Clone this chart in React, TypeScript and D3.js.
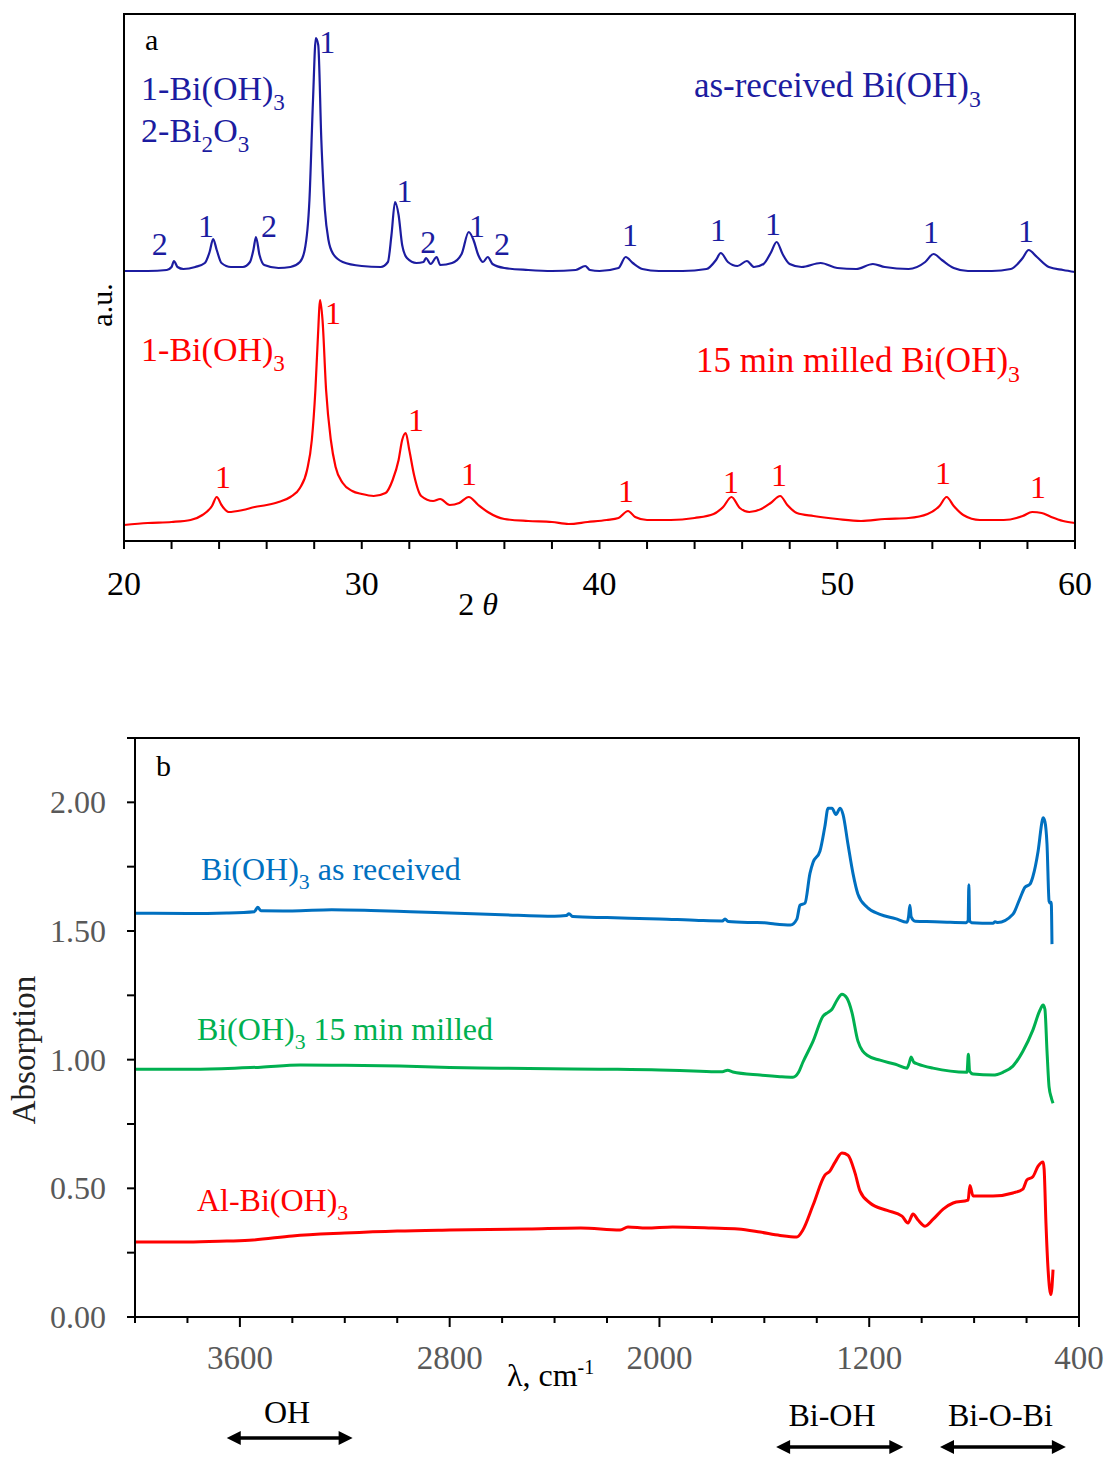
import React from "react";
import * as d3 from "d3";

// ---------- Panel a: XRD (2θ, intensity a.u.) ----------
const xrdAsReceived: [number, number][] = [
  [20.0, 270], [21.0, 270], [21.8, 271], [22.0, 274], [22.1, 280], [22.25, 274], [22.5, 272],
  [23.0, 274], [23.4, 278], [23.6, 289], [23.75, 302], [23.9, 291], [24.1, 278], [24.5, 274],
  [25.0, 274], [25.3, 279], [25.45, 292], [25.55, 304], [25.7, 286], [25.9, 276], [26.5, 273],
  [27.0, 274], [27.4, 279], [27.6, 291], [27.8, 341], [27.95, 441], [28.07, 503], [28.17, 496],
  [28.3, 401], [28.45, 331], [28.6, 301], [28.8, 287], [29.2, 279], [30.0, 275], [30.8, 274],
  [31.1, 279], [31.25, 306], [31.4, 339], [31.55, 326], [31.7, 296], [31.9, 283], [32.3, 278],
  [32.6, 279], [32.7, 283], [32.9, 277], [33.15, 284], [33.3, 276], [33.8, 278], [34.2, 287],
  [34.5, 309], [34.7, 301], [34.9, 286], [35.1, 279], [35.3, 284], [35.5, 277], [36.0, 273],
  [37.0, 271], [38.0, 270], [39.0, 271], [39.4, 275], [39.6, 271], [40.0, 270], [40.8, 273],
  [41.1, 284], [41.4, 278], [41.8, 272], [42.5, 270], [43.5, 270], [44.5, 272], [44.9, 281],
  [45.1, 288], [45.4, 279], [45.8, 275], [46.2, 280], [46.5, 274], [46.9, 277], [47.2, 288],
  [47.45, 299], [47.7, 287], [48.0, 277], [48.5, 274], [49.3, 278], [50.0, 273], [50.8, 272],
  [51.5, 277], [52.0, 274], [53.0, 272], [53.7, 279], [54.05, 287], [54.4, 281], [54.9, 273],
  [55.5, 270], [56.5, 270], [57.3, 272], [57.8, 283], [58.05, 291], [58.4, 284], [58.9, 274],
  [59.5, 271], [60.0, 269],
];

const xrdMilled: [number, number][] = [
  [20.0, 16], [21.0, 18], [22.0, 19], [22.8, 21], [23.3, 26], [23.7, 35], [23.9, 44], [24.1, 36],
  [24.4, 29], [25.0, 31], [25.5, 34], [26.0, 36], [26.5, 39], [27.0, 44], [27.4, 53], [27.7, 71],
  [27.9, 101], [28.05, 151], [28.15, 201], [28.25, 241], [28.35, 221], [28.5, 151], [28.7, 101],
  [28.9, 74], [29.2, 58], [29.6, 50], [30.0, 47], [30.5, 45], [31.0, 48], [31.3, 61], [31.55, 81],
  [31.7, 101], [31.85, 108], [32.0, 91], [32.2, 66], [32.5, 45], [33.0, 40], [33.3, 42],
  [33.7, 36], [34.1, 38], [34.5, 44], [34.9, 36], [35.3, 29], [36.0, 22], [37.0, 20], [38.0, 19],
  [38.7, 17], [39.5, 19], [40.3, 21], [40.8, 23], [41.2, 30], [41.5, 24], [42.0, 21], [43.0, 21],
  [44.0, 23], [44.8, 27], [45.2, 34], [45.55, 44], [45.9, 33], [46.3, 29], [46.8, 32], [47.2, 38],
  [47.6, 45], [47.9, 36], [48.3, 28], [49.0, 25], [50.0, 22], [51.0, 20], [52.0, 22], [53.0, 23],
  [53.8, 27], [54.3, 35], [54.6, 44], [54.9, 35], [55.3, 26], [56.0, 21], [57.0, 21], [57.8, 25],
  [58.2, 29], [58.6, 28], [59.0, 24], [59.5, 20], [60.0, 18],
];

const xrdPeakLabelsAsReceived: [number, number, string][] = [
  [21.5, 286, "2"], [23.45, 304, "1"], [26.1, 304, "2"], [28.55, 488, "1"], [31.8, 339, "1"],
  [32.8, 288, "2"], [34.85, 304, "1"], [35.9, 286, "2"], [41.28, 295, "1"], [44.98, 300, "1"],
  [47.3, 306, "1"], [53.94, 298, "1"], [57.94, 299, "1"],
];
const xrdPeakLabelsMilled: [number, number, string][] = [
  [24.16, 53, "1"], [28.79, 217, "1"], [32.28, 110, "1"], [34.51, 56, "1"], [41.11, 39, "1"],
  [45.53, 48, "1"], [47.55, 55, "1"], [54.45, 57, "1"], [58.44, 43, "1"],
];
const xrdTickValues = d3.range(20, 61, 2);
const xrdTickLabels = [20, 30, 40, 50, 60];

// ---------- Panel b: IR (wavenumber, absorption) ----------
const irAsReceived: [number, number][] = [
  [4000, 1.569], [3800, 1.568], [3650, 1.570], [3545, 1.575], [3532, 1.592], [3520, 1.579],
  [3400, 1.578], [3250, 1.583], [3100, 1.580], [2950, 1.575], [2800, 1.570], [2600, 1.563],
  [2400, 1.557], [2355, 1.560], [2345, 1.567], [2330, 1.556], [2200, 1.552], [2000, 1.547],
  [1850, 1.541], [1760, 1.539], [1750, 1.547], [1738, 1.537], [1650, 1.533], [1600, 1.532],
  [1560, 1.527], [1500, 1.523], [1476, 1.546], [1464, 1.600], [1445, 1.608], [1426, 1.724],
  [1414, 1.767], [1388, 1.810], [1369, 1.907], [1357, 1.977], [1342, 1.977], [1327, 1.953],
  [1311, 1.977], [1300, 1.953], [1281, 1.837], [1262, 1.724], [1243, 1.643], [1208, 1.592],
  [1159, 1.565], [1100, 1.548], [1056, 1.534], [1050, 1.555], [1045, 1.600], [1040, 1.555],
  [1025, 1.538], [950, 1.536], [903, 1.534], [830, 1.532], [823, 1.540], [820, 1.680],
  [817, 1.540], [810, 1.532], [728, 1.530], [720, 1.536], [710, 1.533], [652, 1.565],
  [625, 1.627], [606, 1.670], [587, 1.682], [576, 1.711], [556, 1.810], [540, 1.930],
  [537, 1.940], [530, 1.925], [522, 1.837], [514, 1.615], [510, 1.608], [506, 1.612], [503, 1.449],
];

const irMilled: [number, number][] = [
  [4000, 0.963], [3750, 0.963], [3520, 0.971], [3370, 0.979], [3200, 0.978], [2990, 0.975],
  [2800, 0.970], [2610, 0.967], [2230, 0.963], [2000, 0.960], [1845, 0.955], [1760, 0.953],
  [1740, 0.959], [1720, 0.952], [1616, 0.940], [1540, 0.934], [1491, 0.932], [1470, 0.950],
  [1453, 0.990], [1414, 1.072], [1376, 1.169], [1357, 1.184], [1342, 1.196], [1323, 1.231],
  [1304, 1.254], [1285, 1.239], [1266, 1.184], [1243, 1.072], [1208, 1.017], [1159, 0.998],
  [1100, 0.982], [1056, 0.967], [1048, 0.985], [1040, 1.010], [1030, 0.990], [1014, 0.983],
  [957, 0.967], [827, 0.951], [822, 1.021], [817, 0.955], [804, 0.944], [728, 0.940],
  [690, 0.951], [652, 0.975], [614, 1.033], [576, 1.115], [549, 1.192], [537, 1.212],
  [530, 1.196], [522, 1.033], [514, 0.893], [505, 0.850], [499, 0.831],
];

const irAlBi: [number, number][] = [
  [4000, 0.291], [3800, 0.291], [3650, 0.295], [3550, 0.299], [3400, 0.315], [3200, 0.326],
  [3000, 0.334], [2800, 0.338], [2500, 0.342], [2300, 0.346], [2150, 0.338], [2120, 0.350],
  [2050, 0.346], [1950, 0.350], [1800, 0.346], [1700, 0.342], [1616, 0.330], [1540, 0.317],
  [1476, 0.311], [1453, 0.338], [1414, 0.435], [1369, 0.551], [1350, 0.567], [1330, 0.602],
  [1304, 0.637], [1281, 0.629], [1254, 0.559], [1235, 0.489], [1197, 0.443], [1132, 0.414],
  [1075, 0.392], [1052, 0.365], [1033, 0.400], [1014, 0.377], [987, 0.353], [957, 0.379],
  [918, 0.419], [880, 0.443], [823, 0.454], [816, 0.511], [804, 0.470], [728, 0.470],
  [652, 0.482], [614, 0.497], [599, 0.532], [576, 0.545], [556, 0.586], [537, 0.602],
  [533, 0.575], [526, 0.365], [518, 0.186], [507, 0.087], [499, 0.184],
];

const irYTicks = d3.range(0, 2.251, 0.25);
const irYLabels = [0, 0.5, 1.0, 1.5, 2.0];
const irXTicks = d3.range(400, 4001, 200);
const irXLabels = [3600, 2800, 2000, 1200, 400];
const irBands: { label: string; from: number; to: number; labelAt: number }[] = [
  { label: "OH", from: 3650, to: 3170, labelAt: 3420 },
  { label: "Bi-OH", from: 1555, to: 1070, labelAt: 1342 },
  { label: "Bi-O-Bi", from: 930, to: 450, labelAt: 700 },
];

const NAVY = "#1c1ca0";
const RED = "#ff0000";
const IR_BLUE = "#0070c0";
const IR_GREEN = "#00b050";
const FONT = "'Liberation Serif', 'Times New Roman', serif";

type Seg = { t: string; sub?: boolean };
function RichText({ x, y, segs, size, fill, anchor = "start" }: { x: number; y: number; segs: Seg[]; size: number; fill: string; anchor?: string }) {
  const shift = size * 0.28;
  let inSub = false;
  return (
    <text x={x} y={y} fontSize={size} fill={fill} fontFamily={FONT} textAnchor={anchor as any}>
      {segs.map((s, i) => {
        let dy = 0;
        if (s.sub && !inSub) { dy = shift; inSub = true; }
        else if (!s.sub && inSub) { dy = -shift; inSub = false; }
        return (
          <tspan key={i} dy={dy} fontSize={s.sub ? size * 0.68 : size}>{s.t}</tspan>
        );
      })}
    </text>
  );
}

export default function App() {
  // panel a
  const ax = d3.scaleLinear().domain([20, 60]).range([124, 1075]);
  const ay = d3.scaleLinear().domain([0, 527]).range([541, 14]);
  const aLine = d3.line<[number, number]>().x((d) => ax(d[0])).y((d) => ay(d[1])).curve(d3.curveMonotoneX);

  // panel b
  const bx = d3.scaleLinear().domain([4000, 400]).range([135, 1079]);
  const by = d3.scaleLinear().domain([0, 2.25]).range([1317, 738]);
  const bLine = d3.line<[number, number]>().x((d) => bx(d[0])).y((d) => by(d[1])).curve(d3.curveMonotoneX);

  const arrow = (x1: number, x2: number, y: number, key: string) => {
    const h = 14, w = 7;
    return (
      <g key={key}>
        <line x1={x1 + h - 2} x2={x2 - h + 2} y1={y} y2={y} stroke="#000" strokeWidth={3.5} />
        <polygon points={`${x1},${y} ${x1 + h},${y - w} ${x1 + h},${y + w}`} fill="#000" />
        <polygon points={`${x2},${y} ${x2 - h},${y - w} ${x2 - h},${y + w}`} fill="#000" />
      </g>
    );
  };

  return (
    <svg width={1105} height={1459} style={{ position: "absolute", left: 0, top: 0, background: "#fff" }} fontFamily={FONT}>
      <rect x={0} y={0} width={1105} height={1459} fill="#fff" />
      {/* ===== Panel a ===== */}
      <path d={aLine(xrdAsReceived) || ""} fill="none" stroke={NAVY} strokeWidth={2.2} />
      <path d={aLine(xrdMilled) || ""} fill="none" stroke={RED} strokeWidth={2.2} />
      <rect x={124} y={14} width={1075 - 124} height={541 - 14} fill="none" stroke="#000" strokeWidth={2} />
      {xrdTickValues.map((v) => (
        <line key={v} x1={ax(v)} x2={ax(v)} y1={541} y2={549} stroke="#000" strokeWidth={2} />
      ))}
      {xrdTickLabels.map((v) => (
        <text key={v} x={ax(v)} y={595} fontSize={34} textAnchor="middle" fill="#000">{v}</text>
      ))}
      <text x={478} y={615} fontSize={32} textAnchor="middle" fill="#000">
        2 <tspan fontStyle="italic">θ</tspan>
      </text>
      <text transform="translate(112,305) rotate(-90)" fontSize={30} textAnchor="middle" fill="#000">a.u.</text>

      {xrdPeakLabelsAsReceived.map(([x, y, t], i) => (
        <text key={"pa" + i} x={ax(x)} y={ay(y)} fontSize={32} textAnchor="middle" fill={NAVY}>{t}</text>
      ))}
      {xrdPeakLabelsMilled.map(([x, y, t], i) => (
        <text key={"pm" + i} x={ax(x)} y={ay(y)} fontSize={32} textAnchor="middle" fill={RED}>{t}</text>
      ))}
      <text x={ax(20.88)} y={ay(491)} fontSize={30} fill="#000">a</text>
      <RichText x={ax(20.72)} y={ay(441)} size={34} fill={NAVY} segs={[{ t: "1-Bi(OH)" }, { t: "3", sub: true }]} />
      <RichText x={ax(20.72)} y={ay(399)} size={34} fill={NAVY} segs={[{ t: "2-Bi" }, { t: "2", sub: true }, { t: "O" }, { t: "3", sub: true }]} />
      <RichText x={ax(43.97)} y={ay(444)} size={35} fill={NAVY} segs={[{ t: "as-received Bi(OH)" }, { t: "3", sub: true }]} />
      <RichText x={ax(20.72)} y={ay(180)} size={34} fill={RED} segs={[{ t: "1-Bi(OH)" }, { t: "3", sub: true }]} />
      <RichText x={ax(44.06)} y={ay(169)} size={35} fill={RED} segs={[{ t: "15 min milled Bi(OH)" }, { t: "3", sub: true }]} />

      {/* ===== Panel b ===== */}
      <path d={bLine(irAsReceived) || ""} fill="none" stroke={IR_BLUE} strokeWidth={3} strokeLinejoin="round" />
      <path d={bLine(irMilled) || ""} fill="none" stroke={IR_GREEN} strokeWidth={3} strokeLinejoin="round" />
      <path d={bLine(irAlBi) || ""} fill="none" stroke={RED} strokeWidth={3} strokeLinejoin="round" />
      <rect x={135} y={738} width={1079 - 135} height={1317 - 738} fill="none" stroke="#000" strokeWidth={2} />
      {irYTicks.map((v) => (
        <line key={"yt" + v} x1={127} x2={135} y1={by(v)} y2={by(v)} stroke="#000" strokeWidth={2} />
      ))}
      {irYLabels.map((v) => (
        <text key={"yl" + v} x={106} y={by(v) + 11} fontSize={32} textAnchor="end" fill="#595959">{d3.format(".2f")(v)}</text>
      ))}
      {irXTicks.map((v) => {
        const major = (v - 400) % 800 === 0;
        return <line key={"xt" + v} x1={bx(v)} x2={bx(v)} y1={1317} y2={1317 + (major ? 10 : 6)} stroke="#000" strokeWidth={2} />;
      })}
      {irXLabels.map((v) => (
        <text key={"xl" + v} x={bx(v)} y={1369} fontSize={33} textAnchor="middle" fill="#595959">{v}</text>
      ))}
      <text x={507} y={1386} fontSize={32} fill="#000">
        λ, cm<tspan dy={-12} fontSize={20}>-1</tspan>
      </text>
      <text transform="translate(35,1050) rotate(-90)" fontSize={33} textAnchor="middle" fill="#222">Absorption</text>

      <text x={bx(3920)} y={by(2.101)} fontSize={30} fill="#000">b</text>
      <RichText x={bx(3748)} y={by(1.697)} size={32} fill={IR_BLUE} segs={[{ t: "Bi(OH)" }, { t: "3", sub: true }, { t: " as received" }]} />
      <RichText x={bx(3764)} y={by(1.076)} size={32} fill={IR_GREEN} segs={[{ t: "Bi(OH)" }, { t: "3", sub: true }, { t: " 15 min milled" }]} />
      <RichText x={bx(3764)} y={by(0.412)} size={32} fill={RED} segs={[{ t: "Al-Bi(OH)" }, { t: "3", sub: true }]} />

      {irBands.map((b, i) => (
        <g key={b.label}>
          <text x={bx(b.labelAt)} y={i === 0 ? 1423 : 1426} fontSize={32} textAnchor="middle" fill="#000">{b.label}</text>
          {arrow(bx(b.from), bx(b.to), i === 0 ? 1438 : 1447, "ar" + i)}
        </g>
      ))}
    </svg>
  );
}
